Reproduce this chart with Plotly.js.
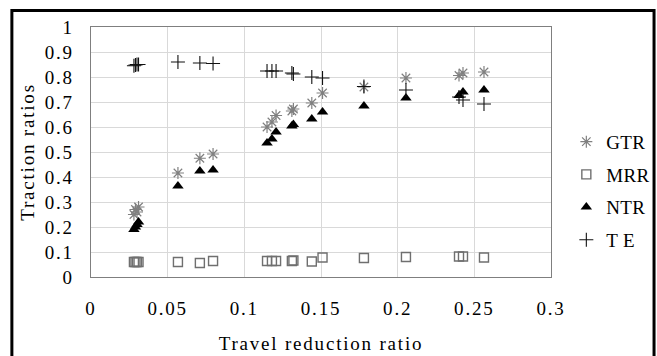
<!DOCTYPE html>
<html>
<head>
<meta charset="utf-8">
<script src="https://cdn.plot.ly/plotly-3.0.1.min.js"></script>
<style>
html, body { margin: 0; padding: 0; background: #fff; }
#chart { width: 657px; height: 356px; }
.main-svg text { letter-spacing: 1.8px; }
.main-svg .legend text { letter-spacing: 0.3px; }
</style>
</head>
<body>
<div id="chart"></div>
<script>
// Travel reduction ratio (x) shared by all series
var travelReduction = [0.028, 0.029, 0.030, 0.031, 0.0567, 0.071, 0.0796, 0.1148, 0.118, 0.1207, 0.131, 0.132, 0.144, 0.151, 0.178, 0.2054, 0.240, 0.2426, 0.2563];
var gtr = [0.25, 0.27, 0.26, 0.28, 0.416, 0.475, 0.492, 0.60, 0.62, 0.646, 0.664, 0.672, 0.696, 0.736, 0.76, 0.796, 0.806, 0.816, 0.82];
var mrr = [0.06, 0.06, 0.06, 0.06, 0.06, 0.056, 0.064, 0.064, 0.064, 0.064, 0.064, 0.066, 0.062, 0.078, 0.076, 0.08, 0.082, 0.082, 0.078];
var ntr = [0.19, 0.20, 0.21, 0.22, 0.364, 0.424, 0.428, 0.536, 0.552, 0.58, 0.604, 0.61, 0.632, 0.66, 0.684, 0.716, 0.726, 0.74, 0.748];
var te = [0.845, 0.848, 0.85, 0.85, 0.86, 0.856, 0.854, 0.824, 0.824, 0.824, 0.816, 0.812, 0.80, 0.796, 0.762, 0.748, 0.72, 0.708, 0.692];
var seriesNames = ['GTR', 'MRR', 'NTR', 'T E'];
var xTicks = [0, 0.05, 0.1, 0.15, 0.2, 0.25, 0.3];
var xTickText = ['0', '0.05', '0.1', '0.15', '0.2', '0.25', '0.3'];
var yTicks = [0, 0.1, 0.2, 0.3, 0.4, 0.5, 0.6, 0.7, 0.8, 0.9, 1];
var yTickText = ['0', '0.1', '0.2', '0.3', '0.4', '0.5', '0.6', '0.7', '0.8', '0.9', '1'];

var FONT = "'Liberation Serif', 'DejaVu Serif', serif";

var traces = [
  {x: travelReduction, y: gtr, name: seriesNames[0], legendgroup: 'g1', mode: 'markers', type: 'scatter',
   marker: {symbol: 'asterisk-open', size: 10, color: '#808080', line: {color: '#808080', width: 1.2}}},
  {x: travelReduction, y: mrr, name: seriesNames[1], legendgroup: 'g2', mode: 'markers', type: 'scatter',
   marker: {symbol: 'square-open', size: 9, color: '#6f6f6f', line: {color: '#6f6f6f', width: 1.4}}},
  {x: travelReduction, y: ntr, name: seriesNames[2], legendgroup: 'g3', mode: 'markers', type: 'scatter',
   marker: {symbol: 'triangle-up', size: 10, color: '#000000', line: {width: 0}}},
  {x: travelReduction, y: te, name: seriesNames[3], legendgroup: 'g4', mode: 'markers', type: 'scatter',
   marker: {symbol: 'cross-thin-open', size: 10, color: '#111111', line: {color: '#111111', width: 1.1}}}
];

var layout = {
  width: 657, height: 356,
  margin: {l: 91, r: 106, t: 27, b: 79},
  paper_bgcolor: '#ffffff', plot_bgcolor: '#ffffff',
  font: {family: FONT, size: 19, color: '#000'},
  showlegend: true,
  legend: {xref: 'container', yref: 'container', x: 0.862, xanchor: 'left', y: 0.655, yanchor: 'top',
           traceorder: 'grouped', tracegroupgap: 5,
           font: {family: FONT, size: 19, color: '#000'}, bgcolor: 'rgba(0,0,0,0)'},
  xaxis: {
    range: [0, 0.3], tickmode: 'array', tickvals: xTicks, ticktext: xTickText,
    showgrid: true, gridcolor: '#d9d9d9', gridwidth: 1, zeroline: false,
    showline: true, linecolor: '#7f7f7f', linewidth: 1.3, mirror: true,
    ticks: '', ticklabelstandoff: 14,
    tickfont: {family: FONT, size: 19, color: '#000'},
    title: {text: 'Travel reduction ratio', font: {family: FONT, size: 19, color: '#000'}, standoff: 18}
  },
  yaxis: {
    range: [0, 1], tickmode: 'array', tickvals: yTicks, ticktext: yTickText,
    showgrid: true, gridcolor: '#d9d9d9', gridwidth: 1, zeroline: false,
    showline: true, linecolor: '#7f7f7f', linewidth: 1.3, mirror: true,
    ticks: '', ticklabelstandoff: 12,
    tickfont: {family: FONT, size: 19, color: '#000'},
    title: {text: 'Traction ratios', font: {family: FONT, size: 19, color: '#000'}, standoff: 10}
  },
  shapes: [
    {type: 'rect', xref: 'paper', yref: 'paper', x0: -0.172, x1: 1.224, y0: -0.34, y1: 1.066,
     line: {color: '#000', width: 3}, fillcolor: 'rgba(0,0,0,0)', layer: 'above'}
  ]
};

Plotly.newPlot('chart', traces, layout, {displayModeBar: false, staticPlot: true});
</script>
</body>
</html>
